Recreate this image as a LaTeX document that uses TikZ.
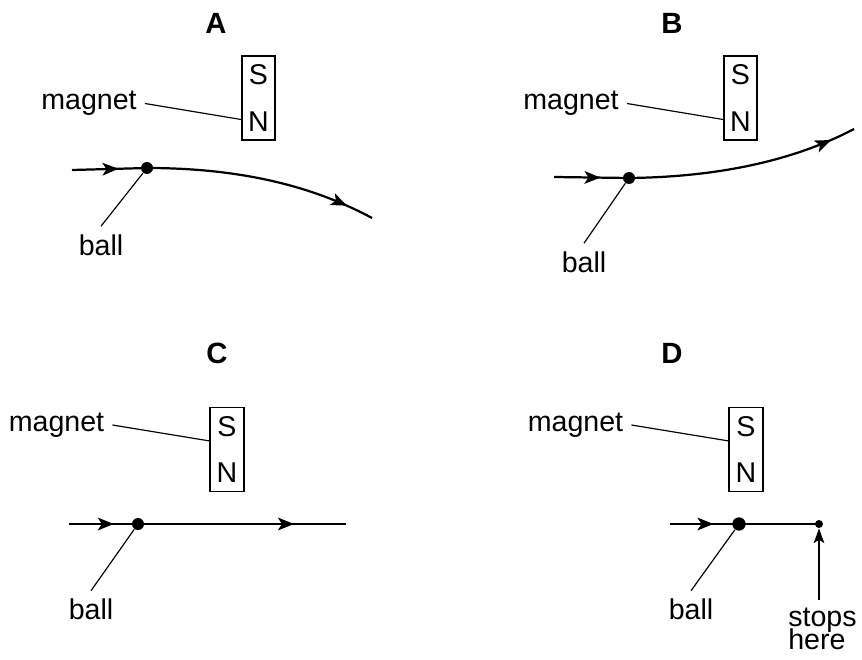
\documentclass[tikz,border=0pt]{standalone}
\usepackage{fontspec}
\setmainfont{Liberation Sans}
\usetikzlibrary{arrows.meta, calc, decorations.markings}

\tikzset{
  panel/.style={font=\fontsize{12.5}{14}\selectfont\bfseries},
  txt/.style={font=\fontsize{12.2}{14.5}\selectfont},
  magnet/.style={draw, line width=0.8pt, inner sep=0pt, minimum width=0.5cm,
    minimum height=1.26cm, align=center, font=\fontsize{12.2}{20}\selectfont},
  balldot/.style={circle, fill, inner sep=0pt, minimum size=0.18cm},
  track/.style={line width=0.95pt},
  leader/.style={line width=0.5pt},
  tip/.style={-{Stealth[length=0.22cm, width=0.16cm, inset=0.05cm]}},
  midarrow/.style={postaction={decorate}, decoration={markings,
    mark=at position #1 with {\arrow{Stealth[length=0.24cm, width=0.19cm, inset=0.06cm]}}}}
}

\begin{document}
\begin{tikzpicture}[x=0.015cm, y=-0.015cm]
    \useasboundingbox (0,0) rectangle (862,659);
    % Titel
    \foreach \p/\x/\y in {A/216/23, B/672/23, C/217/353, D/672/353}
        \node[panel] (t\p) at (\x,\y) {\p};
    % Magnete
    \foreach \p/\x/\y in {A/258.5/98, B/740.5/98, C/227/449.5, D/746/449.5}
        \node[magnet] (mag\p) at (\x,\y) {S\\N};
    \foreach \p/\x/\y/\f in {A/89/103.5/0.25, B/571/103.5/0.25, C/56.5/425/0.6, D/575.5/425/0.6} {
        \node[txt] (lbl\p) at (\x,\y) {magnet};
        \draw[leader] (lbl\p.east) -- ($(mag\p.south west)!\f!(mag\p.north west)$);
    }
    % Kugeln
    \node[balldot] (ballA) at (147,168) {};
    \node[balldot] (ballB) at (629,178) {};
    \node[balldot] (ballC) at (138,524) {};
    \node[balldot, minimum size=0.2cm] (ballD) at (739,524) {};
    \node[balldot, minimum size=0.12cm] (stopD) at (819,524) {};
    % Bahnen
    \coordinate (inA) at (72,170);
    \coordinate (outA) at (372,218);
    \coordinate (inB) at (554,177);
    \coordinate (outB) at (854,129);
    \coordinate (inC) at (69,524);
    \coordinate (outC) at (346,524);
    \coordinate (inD) at (670,524);
    \draw[track, midarrow=0.62] (inA) -- (ballA.center);
    \draw[track, midarrow=0.88] (ballA.center) .. controls (250,168) and (320,190) .. (outA);
    \draw[track, midarrow=0.62] (inB) -- (ballB.center);
    \draw[track, midarrow=0.89] (ballB.center) .. controls (720,177) and (795,160) .. (outB);
    \draw[track, midarrow=0.65] (inC) -- (ballC.center);
    \draw[track, midarrow=0.75] (ballC.center) -- (outC);
    \draw[track, midarrow=0.63] (inD) -- (ballD.center);
    \draw[track] (ballD.center) -- (stopD.center);
    % Beschriftung ball
    \foreach \p/\x/\y in {A/101/245, B/584/262, C/91/609.5, D/691/609.5} {
        \node[txt] (bl\p) at (\x,\y) {ball};
        \draw[leader] (ball\p) -- (bl\p.north);
    }
    \node[txt, align=left, anchor=north west] (stopsD) at (780,600) {stops\\[-4.7pt]here};
    \draw[leader, tip] (stopsD.north -| stopD) -- (stopD);
\end{tikzpicture}
\end{document}
